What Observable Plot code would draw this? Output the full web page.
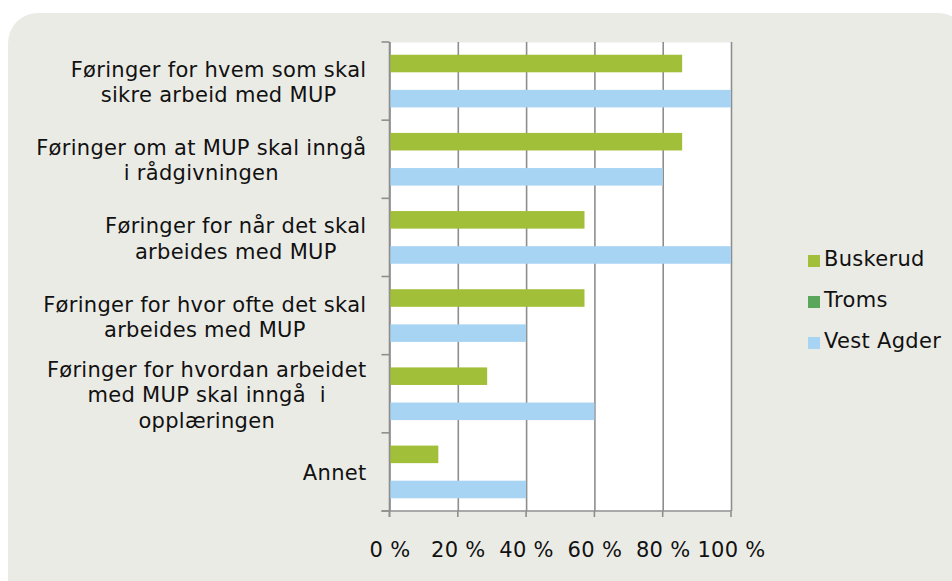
<!DOCTYPE html>
<html>
<head>
<meta charset="utf-8">
<script src="https://cdn.jsdelivr.net/npm/d3@7"></script>
<script src="https://cdn.jsdelivr.net/npm/@observablehq/plot@0.6"></script>
<style>
  html, body { margin: 0; padding: 0; background: #ffffff; width: 952px; height: 581px; overflow: hidden;
    font-family: "DejaVu Sans", Verdana, sans-serif; }
  #panel { position: absolute; left: 8px; top: 13px; width: 960px; height: 640px; background: #ebebe6; border-radius: 30px; }
  #chart { position: absolute; left: 0; top: 0; }
  #legend { position: absolute; left: 808px; top: 247px; font-size: 21px; color: #111; letter-spacing: 0.3px; }
  .item { position: relative; height: 41px; line-height: 24px; white-space: nowrap; }
  .sw { position: absolute; left: 0; top: 8px; width: 12px; height: 12px; }
  .lb { position: absolute; left: 16px; top: 0; }
</style>
</head>
<body>
<div id="panel"></div>
<div id="chart"></div>
<div id="legend"></div>
<script>
// ---- data ----
const categories = [
  "Føringer for hvem som skal\nsikre arbeid med MUP",
  "Føringer om at MUP skal inngå\ni rådgivningen",
  "Føringer for når det skal\narbeides med MUP",
  "Føringer for hvor ofte det skal\narbeides med MUP",
  "Føringer for hvordan arbeidet\nmed MUP skal inngå  i\nopplæringen",
  "Annet"
];
const series = ["Buskerud", "Troms", "Vest Agder"];
const buskerud  = [85.7, 85.7, 57.1, 57.1, 28.6, 14.3];
const troms     = [0, 0, 0, 0, 0, 0];
const vestAgder = [100, 80, 100, 40, 60, 40];
const xTicks = [0, 20, 40, 60, 80, 100];
const colors = ["#a1bf39", "#5aa65a", "#a8d4f4"];

// ---- layout ----
const W = 952, H = 581;
const margin = {top: 42, right: 221, bottom: 70, left: 389.5};
const gray = "#8e8e8e";
const textColor = "#111111";
const ls = 0.3;

const valuesBySeries = [buskerud, troms, vestAgder];
const rows = categories.flatMap((c, i) =>
  series.map((s, j) => ({category: c, series: s, value: valuesBySeries[j][i]})));

const step = (H - margin.top - margin.bottom) / categories.length;
const outerPad = step * 0.163;
const barH = (step - 2 * outerPad) / series.length;

const bars = series.map((s, j) => Plot.barX(rows.filter(r => r.series === s), {
  x: "value", y: "category", fill: colors[j],
  insetTop: outerPad + j * barH,
  insetBottom: step - outerPad - (j + 1) * barH
}));

const ctx = document.createElement("canvas").getContext("2d");
ctx.font = '21px "DejaVu Sans"';
const labelMarks = categories.map(c => {
  const w = d3.max(c.split("\n"), l => ctx.measureText(l).width + ls * l.length);
  return Plot.text([c], {
    y: d => d, text: d => d, frameAnchor: "left", textAnchor: "middle", lineAnchor: "middle",
    dx: -(23.5 + w / 2), fontSize: 21, lineHeight: 1.2, fill: textColor
  });
});

function axisFrame(index, scales, values, dims) {
  const {x, y} = scales;
  const top = dims.marginTop, bottom = dims.height - dims.marginBottom;
  const x0 = x(0), x1 = x(100);
  const bounds = categories.map(c => y(c)).concat([bottom]);
  const g = d3.create("svg:g").attr("stroke", gray).attr("stroke-width", 1.6).attr("fill", "none");
  g.append("line").attr("x1", x0).attr("x2", x0).attr("y1", top).attr("y2", bottom + 6);
  g.append("line").attr("x1", x0 - 8).attr("x2", x1).attr("y1", bottom).attr("y2", bottom);
  for (const b of bounds) g.append("line").attr("x1", x0 - 8).attr("x2", x0).attr("y1", b).attr("y2", b);
  for (const t of xTicks) g.append("line").attr("x1", x(t)).attr("x2", x(t)).attr("y1", bottom).attr("y2", bottom + 6);
  return g.node();
}

const chart = Plot.plot({
  width: W, height: H,
  marginTop: margin.top, marginRight: margin.right, marginBottom: margin.bottom, marginLeft: margin.left,
  style: {background: "transparent", fontSize: "21px", fontFamily: '"DejaVu Sans", Verdana, sans-serif',
    color: textColor, letterSpacing: `${ls}px`},
  x: {domain: [0, 100], ticks: xTicks, tickFormat: d => `${d} %`, tickSize: 0, tickPadding: 31, label: null},
  y: {domain: categories, padding: 0, round: false, axis: null},
  marks: [
    Plot.frame({fill: "white", stroke: "none"}),
    Plot.ruleX(xTicks, {x: d => d, stroke: gray, strokeWidth: 1.6}),
    ...bars,
    axisFrame,
    ...labelMarks
  ]
});
document.getElementById("chart").appendChild(chart);

const legend = d3.select("#legend");
series.forEach((s, j) => {
  const item = legend.append("div").attr("class", "item");
  item.append("div").attr("class", "sw").style("background", colors[j]);
  item.append("div").attr("class", "lb").text(s);
});
</script>
</body>
</html>
